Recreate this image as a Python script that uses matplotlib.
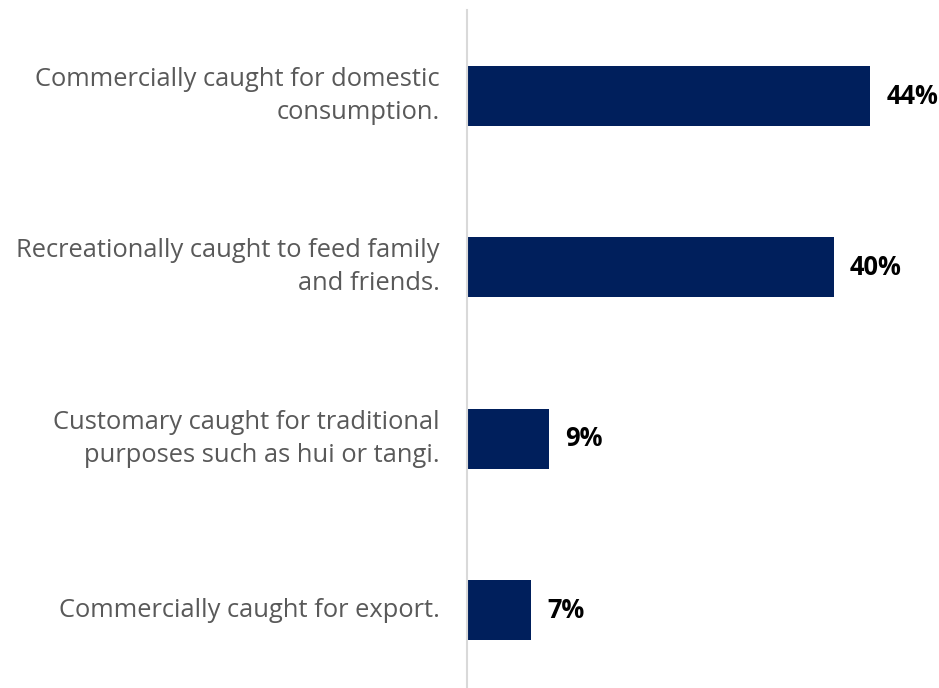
import matplotlib.pyplot as plt
from matplotlib.transforms import offset_copy

# 回答カテゴリと割合 (%)
categories = [
    "Commercially caught for domestic\nconsumption.",
    "Recreationally caught to feed family\nand friends.",
    "Customary caught for traditional\npurposes such as hui or tangi.",
    "Commercially caught for export.",
]
shares = [44, 40, 9, 7]
value_labels = ["44%", "40%", "9%", "7%"]

BAR_COLOR = "#001f5c"
LABEL_COLOR = "#595959"

plt.rcParams["font.family"] = ["Open Sans", "DejaVu Sans"]

fig = plt.figure(figsize=(9.39, 6.88), dpi=100)
ax = fig.add_axes([467 / 939, 0.0, 1 - 467 / 939, 678 / 688])

ypos = list(range(len(categories)))
ax.barh(ypos, shares, height=0.35, color=BAR_COLOR)

ax.set_xlim(0, 51.5)
ax.set_ylim(3.455, -0.502)

# カテゴリ名 (軸の左側に右寄せ)
label_tf = offset_copy(ax.get_yaxis_transform(), fig=fig, x=-27, y=0, units="dots")
for y, text in zip(ypos, categories):
    ax.text(0, y, text, transform=label_tf, ha="right", va="center",
            fontsize=18.4, color=LABEL_COLOR, linespacing=1.42)

# 値ラベル
val_tf = offset_copy(ax.transData, fig=fig, x=16, y=0, units="dots")
for y, v, lab in zip(ypos, shares, value_labels):
    ax.text(v, y, lab, transform=val_tf, ha="left", va="center",
            fontsize=18.4, fontweight="bold", color="black")

ax.set_xticks([])
ax.set_yticks([])
for side in ["top", "right", "bottom"]:
    ax.spines[side].set_visible(False)
ax.spines["left"].set_color("#d9d9d9")
ax.spines["left"].set_linewidth(1.5)

fig.savefig("out.png", dpi=100, facecolor="white")
